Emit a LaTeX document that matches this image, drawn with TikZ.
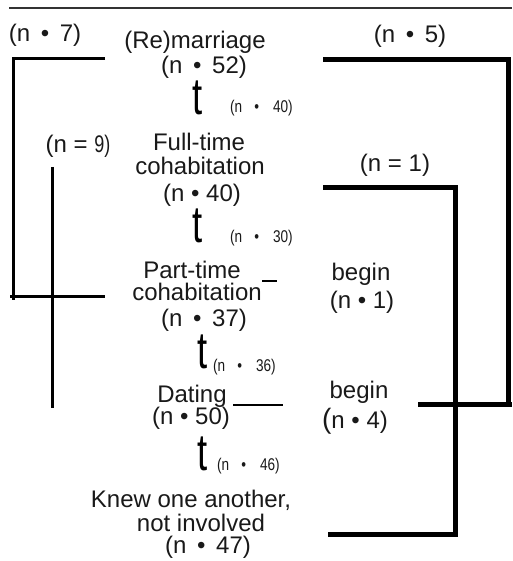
\documentclass[tikz,border=0pt]{standalone}
\usepackage{fontspec}
\setmainfont{Liberation Sans}
\usepackage{graphicx}
\newcommand\smnum[1]{\scalebox{0.8}[1]{(n}\hspace{12pt}\scalebox{0.8}[1]{•}\hspace{14pt}\scalebox{0.8}[1]{#1)}}
\newcommand\tglyph{\scalebox{0.7}[1]{t}}
\begin{document}
\begin{tikzpicture}[x=1pt,y=-1pt,
  lbl/.style={font=\fontsize{24}{25}\selectfont,inner sep=0pt,anchor=base,text=black!90},
  sml/.style={font=\fontsize{17}{17}\selectfont,inner sep=0pt,anchor=base west,text=black!90},
  tg/.style={font=\fontsize{52}{52}\selectfont,inner sep=0pt,anchor=base},
  heavy/.style={line width=5pt},
  medium/.style={line width=3pt},
  fine/.style={line width=1.5pt},
  rule/.style={line width=1.2pt,draw=black!80}]
\useasboundingbox (0,0) rectangle (512,561);

% top rule
\coordinate (ruleL) at (9,8);
\coordinate (ruleR) at (512,8);
\draw[rule] (ruleL) -- (ruleR);

% central column
\node[lbl] (remar) at (195,49) {(Re)marriage};
\node[lbl] (remarn) at (204,74) {(n \,•\, 52)};
\node[tg] (t1) at (198,115) {\tglyph};
\node[sml] (s1) at (230,113) {\smnum{40}};

\node[lbl] (full1) at (199,151) {Full-time};
\node[lbl] (full2) at (200,175) {cohabitation};
\node[lbl] (fulln) at (202,201) {(n • 40)};
\node[tg] (t2) at (198,242) {\tglyph};
\node[sml] (s2) at (230,242) {\smnum{30}};

\node[lbl] (part1) at (192,278) {Part-time};
\node[lbl] (part2) at (197,300) {cohabitation};
\node[lbl] (partn) at (204,326) {(n \,•\, 37)};
\node[tg] (t3) at (203,368) {\tglyph};
\node[sml] (s3) at (213,371) {\smnum{36}};

\node[lbl] (dat1) at (192,402) {Dating};
\node[lbl] (datn) at (191,424) {(n • 50)};
\node[tg] (t4) at (203,470) {\tglyph};
\node[sml] (s4) at (217,470) {\smnum{46}};

\node[lbl] (knew1) at (191,507) {Knew one another,};
\node[lbl] (knew2) at (201,531) {not involved};
\node[lbl] (knew3) at (208,553) {(n \,•\, 47)};

% left labels
\node[lbl] (n7) at (45,42) {(n \,•\, 7)};
\node[lbl] (n9) at (78,153) {(n = \scalebox{0.75}[1]{9)}};

% right labels
\node[lbl] (n5) at (410,43) {(n \,•\, 5)};
\node[lbl] (n1a) at (395,172) {(n = 1)};
\node[lbl] (beg1) at (361,280) {begin};
\node[lbl] (beg1n) at (362,308) {(n • 1)};
\node[lbl] (beg2) at (359,398) {begin};
\node[lbl] (beg2n) at (355,428) {{\fontsize{28}{28}\selectfont(}n • 4)};

% left brackets
\coordinate (l1a) at (105,59);
\coordinate (l1b) at (13,59);
\coordinate (l1c) at (13,300);
\coordinate (l1d) at (10,296);
\coordinate (l1e) at (105,296);
\draw[medium] (l1a) -- (l1b) -- (l1c);
\draw[medium] (l1d) -- (l1e);
\coordinate (l2a) at (52,167);
\coordinate (l2b) at (52,408);
\draw[medium] (l2a) -- (l2b);

% right brackets
\coordinate (r1a) at (323,60);
\coordinate (r1b) at (508,60);
\coordinate (r1c) at (508,404);
\coordinate (r1d) at (418,404);
\coordinate (r1e) at (512,404);
\draw[heavy] (r1a) -- (r1b) -- (r1c);
\draw[heavy] (r1d) -- (r1e);
\coordinate (r2a) at (323,188);
\coordinate (r2b) at (455,188);
\coordinate (r2c) at (455,537);
\coordinate (r2d) at (328,534);
\coordinate (r2e) at (457,534);
\draw[heavy] (r2a) -- (r2b) -- (r2c);
\draw[heavy] (r2d) -- (r2e);

% short strokes
\coordinate (ua) at (262,281);
\coordinate (ub) at (277,281);
\draw[fine] (ua) -- (ub);
\coordinate (da) at (233,405);
\coordinate (db) at (283,405);
\draw[fine] (da) -- (db);
\end{tikzpicture}
\end{document}
